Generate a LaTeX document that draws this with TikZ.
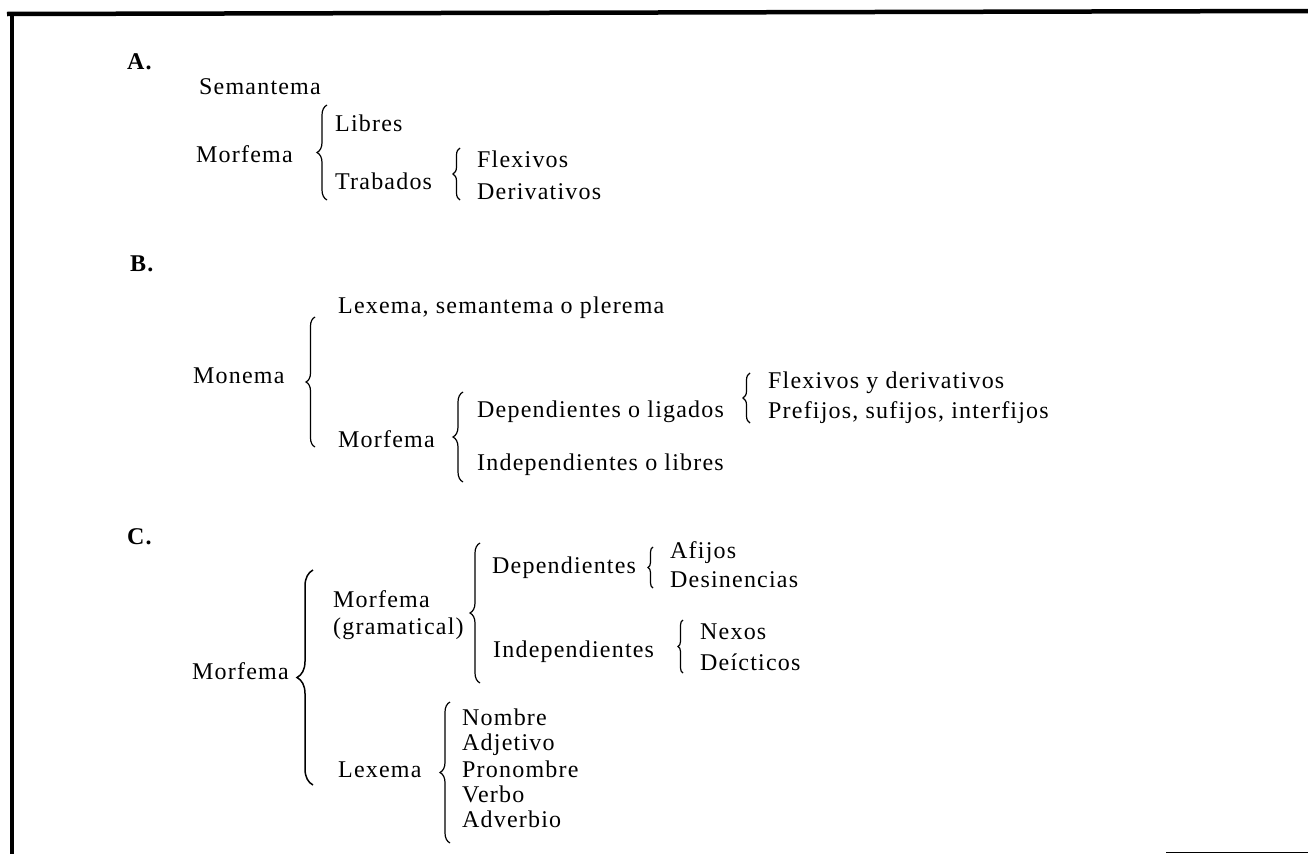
\documentclass[tikz,border=0pt]{standalone}
\usepackage{fontspec}
\setmainfont{Liberation Serif}[LetterSpace=5]
\usetikzlibrary{decorations.pathreplacing}

\begin{document}
\begin{tikzpicture}[x=1pt, y=-1pt,
      font=\fontsize{24}{28}\selectfont,
      lbl/.style={anchor=base west, inner sep=0pt},
      hd/.style={lbl, font=\fontsize{24}{28}\selectfont\bfseries},
      brc/.style={decorate, decoration={brace, amplitude=#1}, line width=1.2pt},
      frame/.style={line width=4.5pt}]
    \useasboundingbox (0,0) rectangle (1308,854);
    % frame
    \draw[frame] (7,14) -- (1308,11);
    \draw[frame] (12,12) -- (12,854);
    \draw[line width=1pt] (1166,852.5) -- (1308,852.5);

    % A
    \node[hd] (ha) at (127,69) {A.};
    \node[lbl] (asem) at (199,94) {Semantema};
    \node[lbl] (amorf) at (196,162) {Morfema};
    \node[lbl] (alib) at (335,131) {Libres};
    \node[lbl] (atrab) at (335,189) {Trabados};
    \node[lbl] (aflex) at (477,167) {Flexivos};
    \node[lbl] (aderiv) at (477,199) {Derivativos};
    \draw[brc=10pt] (327,200) -- (327,105);
    \draw[brc=7pt] (460,200) -- (460,148);

    % B
    \node[hd] (hb) at (130,271) {B.};
    \node[lbl] (blex) at (338,313) {Lexema, semantema o plerema};
    \node[lbl] (bmon) at (193,383) {Monema};
    \node[lbl] (bdep) at (477,417) {Dependientes o ligados};
    \node[lbl] (bflex) at (768,388) {Flexivos y derivativos};
    \node[lbl] (bpref) at (768,418) {Prefijos, sufijos, interfijos};
    \node[lbl] (bmorf) at (338,447) {Morfema};
    \node[lbl] (bind) at (477,470) {Independientes o libres};
    \draw[brc=9pt] (315,447) -- (315,317);
    \draw[brc=10pt] (463,482) -- (463,392);
    \draw[brc=7pt] (750,423) -- (750,373);

    % C
    \node[hd] (hc) at (127,544) {C.};
    \node[lbl] (cmorf) at (192,679) {Morfema};
    \node[lbl] (cgram) at (333,607) {Morfema};
    \node[lbl] (cgram2) at (333,634) {(gramatical)};
    \node[lbl] (cdep) at (492,573) {Dependientes};
    \node[lbl] (cafi) at (670,558) {Afijos};
    \node[lbl] (cdes) at (670,587) {Desinencias};
    \node[lbl] (cind) at (493,657) {Independientes};
    \node[lbl] (cnex) at (700,639) {Nexos};
    \node[lbl] (cdei) at (700,670) {Deícticos};
    \node[lbl] (clex) at (338,777) {Lexema};
    \node[lbl] (cnom) at (462,725) {Nombre};
    \node[lbl] (cadj) at (462,750) {Adjetivo};
    \node[lbl] (cpro) at (462,777) {Pronombre};
    \node[lbl] (cver) at (462,802) {Verbo};
    \node[lbl] (cadv) at (462,827) {Adverbio};
    \draw[brc=16pt, line width=1.5pt] (313,785) -- (313,570);
    \draw[brc=10pt] (480,683) -- (480,543);
    \draw[brc=5pt] (653,588) -- (653,547);
    \draw[brc=5pt] (683,673) -- (683,620);
    \draw[brc=10pt] (450,843) -- (450,702);
  \end{tikzpicture}
\end{document}
